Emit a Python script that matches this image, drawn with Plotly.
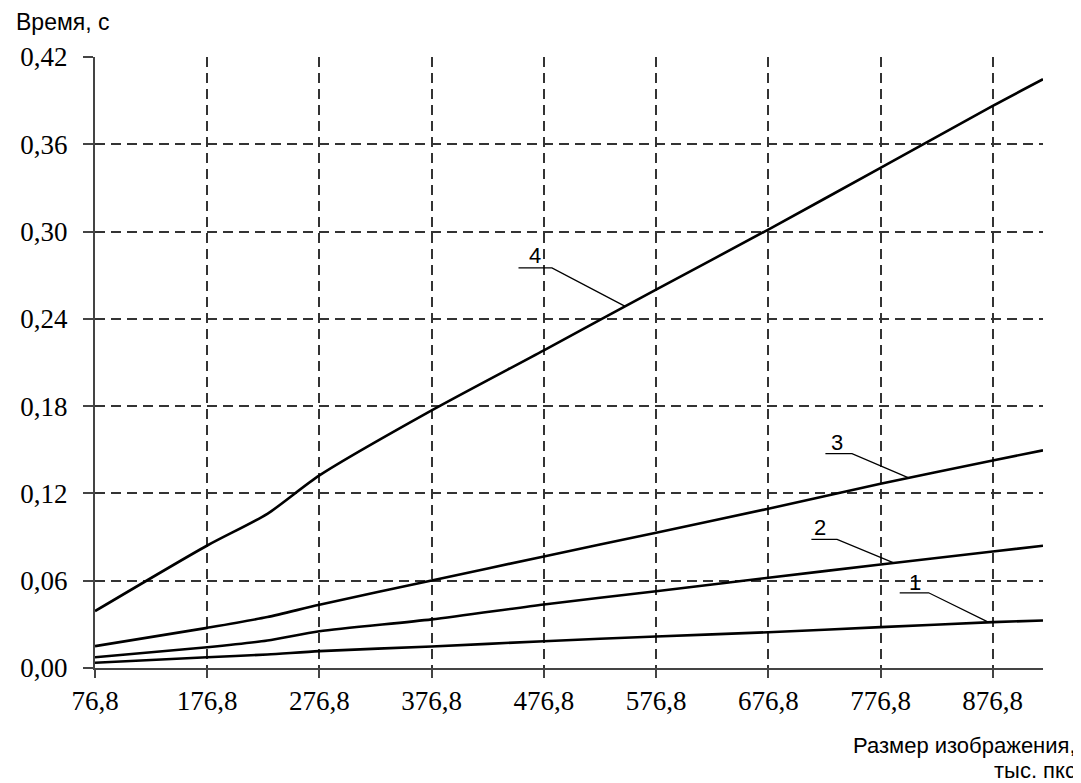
import numpy as np
import plotly.graph_objects as go

# ---- data ----
size_k = [76.8, 176.8, 230.4, 276.8, 376.8, 476.8, 576.8, 676.8, 776.8, 876.8, 921.6]
curve1 = [0.0036, 0.0074, 0.0093, 0.0116, 0.0148, 0.0184, 0.0217, 0.0246, 0.0281, 0.0315, 0.0327]
curve2 = [0.0074, 0.0143, 0.0189, 0.0253, 0.0334, 0.0437, 0.0528, 0.0620, 0.0712, 0.0801, 0.0840]
curve3 = [0.0150, 0.0276, 0.0350, 0.0435, 0.0602, 0.0767, 0.0930, 0.1095, 0.1267, 0.1427, 0.1496]
curve4 = [0.0391, 0.0842, 0.1060, 0.1324, 0.1771, 0.2184, 0.2601, 0.3014, 0.3438, 0.3864, 0.4047]

x_ticks = [76.8, 176.8, 276.8, 376.8, 476.8, 576.8, 676.8, 776.8, 876.8]
x_tick_labels = ["76,8", "176,8", "276,8", "376,8", "476,8", "576,8", "676,8", "776,8", "876,8"]
y_ticks = [0.0, 0.06, 0.12, 0.18, 0.24, 0.30, 0.36, 0.42]
y_tick_labels = ["0,00", "0,06", "0,12", "0,18", "0,24", "0,30", "0,36", "0,42"]

series = [("1", curve1), ("2", curve2), ("3", curve3), ("4", curve4)]

# label placement: (text x, text y, underline x0, underline x1, underline y, leader end x)
label_pos = {
    "1": (807.9, 0.0590, 793.9, 819.7, 0.0517, 873.3),
    "2": (723.2, 0.0964, 715.2, 738.1, 0.0884, 788.6),
    "3": (738.1, 0.1553, 727.7, 751.4, 0.1473, 801.9),
    "4": (469.1, 0.2837, 454.2, 484.0, 0.2750, 549.3),
}

fig = go.Figure()
for name, ys in series:
    fig.add_trace(go.Scatter(
        x=size_k, y=ys, mode="lines", name=name,
        line=dict(color="#000000", width=2.6, shape="spline", smoothing=0.7),
        showlegend=False, hoverinfo="skip"))

shapes = []
annotations = []
for name, ys in series:
    tx, ty, ux0, ux1, uy, ex = label_pos[name]
    ey = float(np.interp(ex, size_k, ys))
    shapes.append(dict(type="path", xref="x", yref="y",
                       path=f"M {ux0},{uy} L {ux1},{uy} L {ex},{ey}",
                       line=dict(color="#000000", width=1.3)))
    annotations.append(dict(x=tx, y=ty, xref="x", yref="y", text=name,
                            showarrow=False, xanchor="center", yanchor="middle",
                            font=dict(family="Liberation Sans, Arial", size=22, color="#000000")))

annotations.append(dict(x=0, y=1, xref="paper", yref="paper", text="Время, с",
                        showarrow=False, xanchor="left", yanchor="middle",
                        xshift=-81, yshift=35,
                        font=dict(family="Liberation Sans, Arial", size=23, color="#000000")))
xt_font = dict(family="Liberation Sans, Arial", size=22, color="#000000")
annotations.append(dict(x=1, y=0, xref="paper", yref="paper", text="Размер изображения,",
                        showarrow=False, xanchor="right", yanchor="middle",
                        xshift=34, yshift=-77, font=xt_font, borderpad=0))
annotations.append(dict(x=1, y=0, xref="paper", yref="paper", text="тыс. пкс",
                        showarrow=False, xanchor="right", yanchor="middle",
                        xshift=34, yshift=-102, font=xt_font, borderpad=0))

tick_font = dict(family="Liberation Serif, Times New Roman", size=27, color="#000000")

fig.update_layout(
    width=1073, height=775, autosize=False,
    margin=dict(l=87, r=38, t=49, b=115, pad=0),
    paper_bgcolor="white", plot_bgcolor="white",
    shapes=shapes, annotations=annotations,
    xaxis=dict(range=[76.8, 921.6], tickmode="array", tickvals=x_ticks, ticktext=x_tick_labels,
               showgrid=True, gridcolor="#333333", gridwidth=1.5, griddash="10px,6px",
               showline=True, linecolor="#444444", linewidth=2,
               ticks="outside", ticklen=8, tickwidth=2, tickcolor="#444444",
               tickfont=tick_font, zeroline=False, ticklabelstandoff=0),
    yaxis=dict(range=[0, 0.42], tickmode="array", tickvals=y_ticks, ticktext=y_tick_labels,
               showgrid=True, gridcolor="#333333", gridwidth=1.5, griddash="10px,6px",
               showline=True, linecolor="#444444", linewidth=2,
               ticks="outside", ticklen=10, tickwidth=2, tickcolor="#444444",
               tickfont=tick_font, zeroline=False, ticklabelstandoff=10),
)

fig.write_html("out.html")
